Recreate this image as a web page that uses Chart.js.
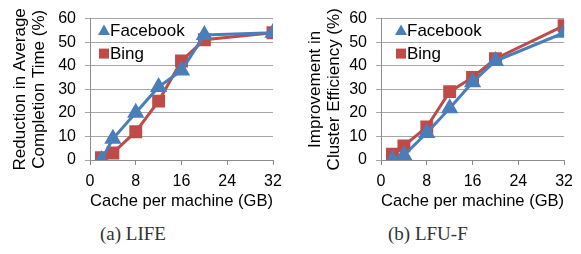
<!DOCTYPE html>
<html lang="en">
<head>
  <meta charset="UTF-8">
  <title>Cache per machine</title>
  <script src="https://cdn.jsdelivr.net/npm/chart.js"></script>
  <style>
    body {
      margin: 0;
      width: 581px;
      height: 254px;
      background: #ffffff;
      position: relative;
      overflow: hidden;
    }
    .box {
      position: absolute;
      top: 0;
      width: 290px;
      height: 214px;
    }
    .caption {
      position: absolute;
      top: 223px;
      font-family: "Liberation Serif", "DejaVu Serif", serif;
      font-size: 19px;
      color: #333;
    }
  </style>
</head>
<body>
  <div class="box" style="left:0"><canvas id="lifeChart"></canvas></div>
  <div class="box" style="left:290px"><canvas id="lfuChart"></canvas></div>
  <div class="caption" style="left:100px">(a) LIFE</div>
  <div class="caption" style="left:388px">(b) LFU-F</div>

  <script>
    // cache sizes (GB)
    const cacheGB = [2, 4, 8, 12, 16, 20, 32];
    const xTicks = [0, 8, 16, 24, 32];

    // (a) LIFE - reduction in average completion time (%)
    const lifeFacebook = [0, 9, 20, 31, 38, 53, 54];
    const lifeBing = [1, 3, 12, 25, 42, 51, 54];

    // (b) LFU-F - improvement in cluster efficiency (%)
    const lfuFacebook = [0, 2, 11.5, 22, 33, 42, 54];
    const lfuBing = [2.5, 6, 14, 29, 35, 43, 57];

    const blue = '#4a7ebb';
    const red = '#be4b48';
    const font = 'Liberation Sans, Arial, sans-serif';

    // legend drawn inside the plot, top-left corner
    const innerLegend = {
      id: 'innerLegend',
      afterDatasetsDraw(chart, args, opts) {
        const ctx = chart.ctx;
        const area = chart.chartArea;
        ctx.save();
        ctx.font = '17px ' + font;
        ctx.textBaseline = 'middle';
        chart.data.datasets.forEach((ds, i) => {
          const cx = area.left + opts.offsetX;
          const cy = area.top + 12 + i * 23;
          ctx.fillStyle = ds.borderColor;
          if (ds.pointStyle === 'triangle') {
            ctx.beginPath();
            ctx.moveTo(cx, cy - 6);
            ctx.lineTo(cx + 6, cy + 4.5);
            ctx.lineTo(cx - 6, cy + 4.5);
            ctx.closePath();
            ctx.fill();
          } else {
            ctx.fillRect(cx - 5, cy - 5, 10, 10);
          }
          ctx.fillStyle = '#000';
          ctx.fillText(ds.label, cx + 6, cy + 1);
        });
        ctx.restore();
      }
    };

    function makeChart(id, fb, bing, titleLines, cfg) {
      return new Chart(document.getElementById(id), {
        type: 'line',
        data: {
          labels: cacheGB,
          datasets: [
            {
              label: 'Facebook',
              data: cacheGB.map((x, i) => ({ x: x, y: fb[i] })),
              borderColor: blue,
              backgroundColor: blue,
              pointStyle: 'triangle',
              pointRadius: 7,
              borderWidth: 3,
              tension: 0
            },
            {
              label: 'Bing',
              data: cacheGB.map((x, i) => ({ x: x, y: bing[i] })),
              borderColor: red,
              backgroundColor: red,
              pointStyle: 'rect',
              pointRadius: 7,
              borderWidth: 3,
              tension: 0
            }
          ]
        },
        options: {
          responsive: true,
          maintainAspectRatio: false,
          animation: false,
          layout: { padding: { top: 12, right: cfg.padRight, left: 0, bottom: 0 } },
          plugins: {
            legend: { display: false },
            tooltip: { enabled: false },
            innerLegend: { offsetX: cfg.legendX }
          },
          scales: {
            x: {
              type: 'linear',
              min: 0,
              max: 32,
              afterBuildTicks: scale => { scale.ticks = xTicks.map(v => ({ value: v })); },
              afterFit: scale => { scale.height = 54; },
              ticks: { color: '#000', font: { family: font, size: 16 }, padding: 7 },
              grid: { drawOnChartArea: false, tickLength: 5, color: '#8c8c8c' },
              border: { color: '#8c8c8c', width: 1 },
              title: {
                display: true,
                text: 'Cache per machine (GB)',
                color: '#000',
                font: { family: font, size: 17 },
                padding: { top: 0, bottom: 2 }
              }
            },
            y: {
              min: 0,
              max: 60,
              afterFit: scale => { scale.width = cfg.yWidth; },
              ticks: { stepSize: 10, color: '#000', font: { family: font, size: 16 }, padding: 9 },
              grid: { color: '#a6a6a6', tickLength: 5 },
              border: { color: '#8c8c8c', width: 1 },
              title: {
                display: true,
                text: titleLines,
                color: '#000',
                font: { family: font, size: 17, lineHeight: 1.1 },
                padding: { top: cfg.titlePad, bottom: 0 }
              }
            }
          }
        },
        plugins: [innerLegend]
      });
    }

    makeChart('lifeChart', lifeFacebook, lifeBing, ['Reduction in Average', 'Completion Time (%)'],
      { yWidth: 90, padRight: 17, titlePad: 11, legendX: 14 });
    makeChart('lfuChart', lfuFacebook, lfuBing, ['Improvement in', 'Cluster Efficiency (%)'],
      { yWidth: 91, padRight: 13, titlePad: 16, legendX: 20 });
  </script>
</body>
</html>
